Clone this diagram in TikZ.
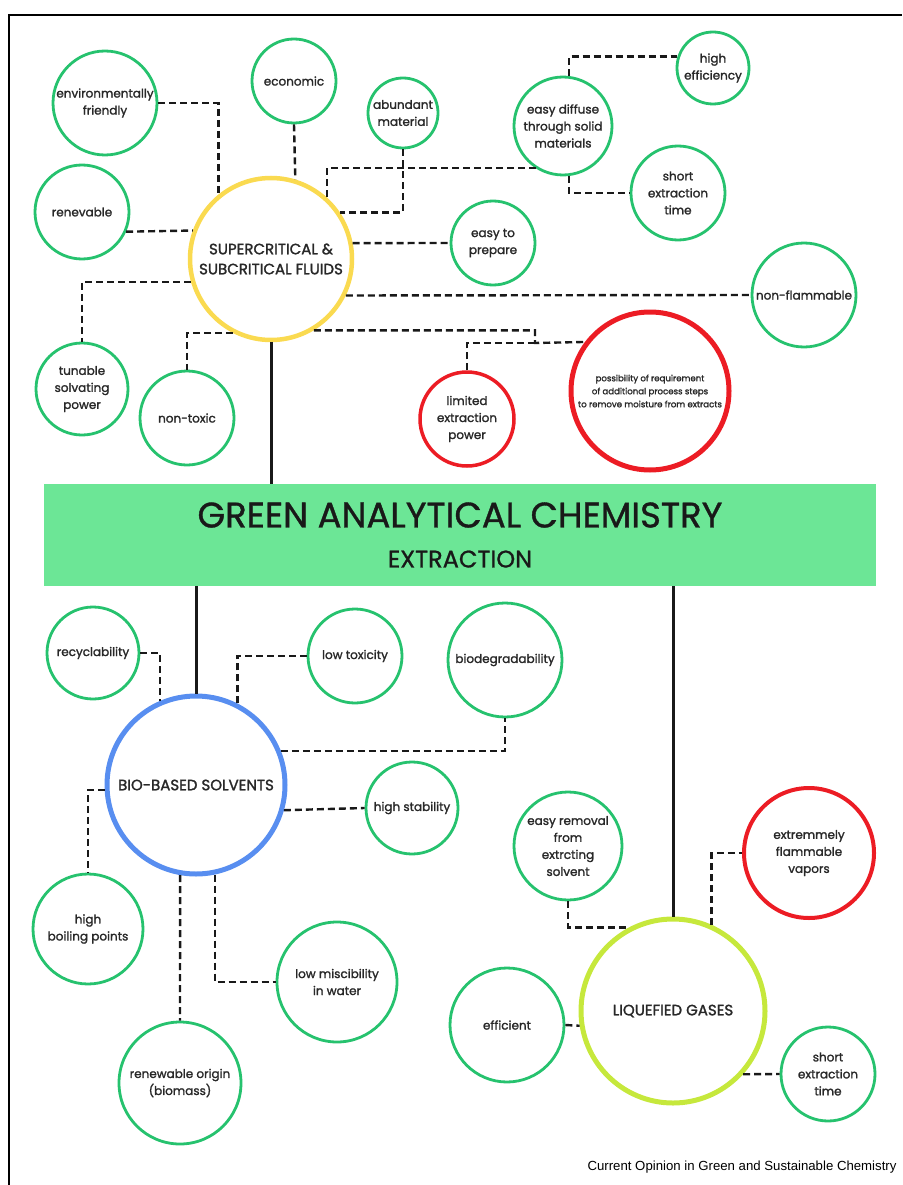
\documentclass[tikz,border=0pt]{standalone}
\usepackage{fontspec}
\setmainfont{Poppins}
\newfontfamily\labelfont{Poppins}[FakeBold=1.6]
\newfontfamily\titlefont{Poppins}[FakeBold=1.0]
\newfontfamily\creditfont{Liberation Sans}
\usepackage{xcolor}
\usepackage{tikz}
\usetikzlibrary{shapes}
\usetikzlibrary{calc}
\definecolor{propgreen}{RGB}{38,194,110}
\definecolor{scyellow}{RGB}{250,218,80}
\definecolor{alertred}{RGB}{236,28,36}
\definecolor{bioblue}{RGB}{88,142,240}
\definecolor{lggreen}{RGB}{198,232,60}
\definecolor{gacgreen}{RGB}{108,230,150}
\definecolor{linkgray}{RGB}{25,25,25}
\definecolor{labelgray}{RGB}{40,40,40}
\tikzset{ prop_node/.style = {circle, draw=propgreen, line width=2.8pt, inner sep=0pt, minimum size=#1, align=center, text=labelgray, font=\labelfont\fontsize{12}{17}\selectfont} }
\tikzset{ con_node/.style = {prop_node=#1, draw=alertred, line width=4pt} }
\tikzset{ hub_node/.style = {circle, line width=4.5pt, inner sep=0pt, minimum size=#1, align=center, text=labelgray, font=\labelfont\fontsize{15}{20}\selectfont} }
\tikzset{ gac_box/.style = {rectangle, fill=gacgreen, inner sep=0pt, minimum width=832, minimum height=102, align=center, text=black!90, font=\titlefont\fontsize{35.5}{40}\selectfont} }
\tikzset{ dash_link/.style = {draw=linkgray, line width=2.4pt, dash pattern=on 7pt off 4pt} }
\tikzset{ trunk_link/.style = {draw=linkgray, line width=3pt} }

\begin{document}
\begin{tikzpicture}[x=1pt, y=-1pt]
                        \useasboundingbox (0, 0) rectangle (902, 1185);
                        \draw[line width=1.5pt] (9, 1185) -- (9, 15) -- (902, 15);
                        % supercritical fluids
                        \node[hub_node=162, draw=scyellow] (sc) at (271, 259) {SUPERCRITICAL \&\\SUBCRITICAL FLUIDS};
                        \node[prop_node=104] (env) at (105, 103) {environmentally\\friendly};
                        \node[prop_node=84] (eco) at (294, 81) {economic};
                        \node[prop_node=70] (abun) at (403, 113) {abundant\\material};
                        \node[prop_node=94] (ren) at (82, 212) {renevable};
                        \node[prop_node=92] (tun) at (82, 389) {tunable\\solvating\\power};
                        \node[prop_node=94] (ntox) at (187, 418) {non-toxic};
                        \node[prop_node=72] (heff) at (713, 68) {high\\efficiency};
                        \node[prop_node=98] (diff) at (563, 126) {easy diffuse\\through solid\\materials};
                        \node[prop_node=94] (sext) at (678, 193) {short\\extraction\\time};
                        \node[prop_node=84] (prep) at (493, 243) {easy to\\prepare};
                        \node[prop_node=104] (nonf) at (804, 295) {non-flammable};
                        \node[con_node=94, line width=3.5pt] (lim) at (467, 419) {limited\\extraction\\power};
                        \node[con_node=158, line width=5pt, font=\labelfont\fontsize{8.6}{13}\selectfont] (poss) at (650, 391) {possibility of requirement\\of additional process steps\\to remove moisture from extracts};
                        \coordinate (split) at (535, 343);
                        \draw[dash_link] (env.east) -| (sc.129);
                        \draw[dash_link] (eco.south) to (sc.73);
                        \draw[dash_link] (abun.south) |- (sc.34);
                        \draw[dash_link] (diff.237) -| (sc.48);
                        \draw[dash_link] (diff.83) |- (heff.162);
                        \draw[dash_link] (diff.277) |- (sext.west);
                        \draw[dash_link] (sc.11) to (prep.west);
                        \draw[dash_link] (sc.-26) to (nonf.west);
                        \draw[dash_link] (sc.-59) -| (split) to (poss.143);
                        \draw[dash_link] (lim.north) |- (split);
                        \draw[dash_link] (ren.-24) to (sc.160);
                        \draw[dash_link] (sc.196) -| (tun.north);
                        \draw[dash_link] (sc.243) -| (ntox.north);
                        % green analytical chemistry
                        \node[gac_box] (gac) at (460, 535) {GREEN ANALYTICAL CHEMISTRY\\{\fontsize{24}{28}\selectfont EXTRACTION}};
                        % bio-based solvents
                        \node[hub_node=178, draw=bioblue, line width=5pt] (bio) at (196, 785) {BIO-BASED SOLVENTS};
                        \node[prop_node=92] (rec) at (93, 653) {recyclability};
                        \node[prop_node=94] (ltox) at (355, 656) {low toxicity};
                        \node[prop_node=114] (bdeg) at (505, 660) {biodegradability};
                        \node[prop_node=92] (hstab) at (412, 808) {high stability};
                        \node[prop_node=110] (hboil) at (88, 929) {high\\boiling points};
                        \node[prop_node=120] (lmis) at (337, 982) {low miscibility\\in water};
                        \node[prop_node=122] (renew) at (180, 1083) {renewable origin\\(biomass)};
                        \draw[dash_link] (rec.east) -| (bio.113);
                        \draw[dash_link] (bio.63) |- (ltox.west);
                        \draw[dash_link] (bio.22) -| (bdeg.south);
                        \draw[dash_link] (bio.-16) to (hstab.west);
                        \draw[dash_link] (bio.183) -| (hboil.north);
                        \draw[dash_link] (bio.-100) to (renew.north);
                        \draw[dash_link] (bio.-78) |- (lmis.west);
                        % liquefied gases
                        \node[hub_node=184, draw=lggreen, line width=5pt] (lg) at (673, 1011) {LIQUEFIED GASES};
                        \node[prop_node=108] (erem) at (568, 846) {easy removal\\from\\extrcting\\solvent};
                        \node[con_node=130] (flam) at (809, 853) {extremmely\\flammable\\vapors};
                        \node[prop_node=114] (eff) at (507, 1025) {efficient};
                        \node[prop_node=94] (sextb) at (828, 1074) {short\\extraction\\time};
                        \draw[dash_link] (erem.south) |- (lg.118);
                        \draw[dash_link] (lg.66) |- (flam.west);
                        \draw[dash_link] (eff.east) to (lg.189);
                        \draw[dash_link] (lg.-42) to (sextb.west);
                        % trunks
                        \draw[trunk_link] (sc) to (sc |- gac.north);
                        \draw[trunk_link] (bio) to (bio |- gac.south);
                        \draw[trunk_link] (lg) to (lg |- gac.south);
                        \node[anchor=base east, font=\creditfont\fontsize{13.2}{15}\selectfont] (credit) at (900, 1170) {Current Opinion in Green and Sustainable Chemistry};
                \end{tikzpicture}
\end{document}
